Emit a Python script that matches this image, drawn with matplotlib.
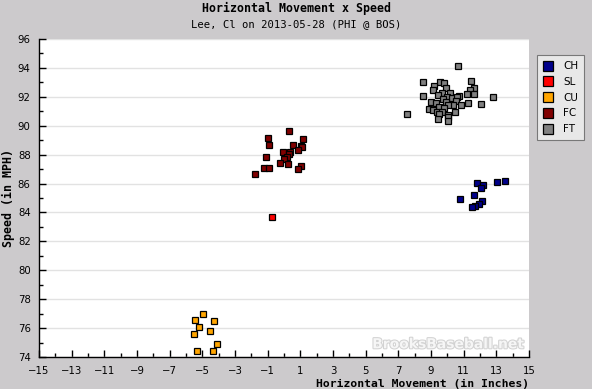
import matplotlib
matplotlib.use("Agg")
import matplotlib.pyplot as plt
import matplotlib.patheffects as pe
from matplotlib.ticker import MultipleLocator

# ---- data (horizontal movement in inches, speed in mph) ----
ch_x = [11.84, 12.20, 12.08, 13.06, 13.55, 10.80, 11.65, 12.14, 11.96, 11.71, 11.53]
ch_y = [86.02, 85.88, 85.67, 86.09, 86.16, 84.93, 85.19, 84.77, 84.56, 84.42, 84.36]

sl_x = [-0.72]
sl_y = [83.66]

cu_x = [-4.94, -5.43, -4.27, -5.19, -4.51, -5.49, -4.08, -5.31, -4.33]
cu_y = [76.95, 76.54, 76.47, 76.05, 75.78, 75.57, 74.88, 74.40, 74.40]

fc_x = [0.33, -0.96, 1.18, -0.90, 0.57, 1.06, 1.12, 0.88, -0.04, 0.39, 0.33,
        0.16, -1.08, 0.02, -0.23, 0.26, 1.06, 0.88, -1.22, -0.90, -1.76]
fc_y = [89.61, 89.13, 89.06, 88.65, 88.65, 88.60, 88.50, 88.30, 88.16, 88.16, 88.02,
        87.86, 87.82, 87.68, 87.40, 87.33, 87.19, 86.99, 87.05, 87.05, 86.64]

ft_x = [10.67, 8.53, 9.57, 9.82, 11.47, 9.20, 11.65, 9.94, 9.14, 11.41, 9.69,
        10.18, 11.22, 11.65, 8.53, 9.45, 10.00, 10.31, 9.76, 10.73, 10.61, 12.82,
        9.02, 9.33, 9.94, 10.55, 11.29, 12.08, 10.86, 10.37, 10.06, 9.51, 9.82,
        8.90, 9.14, 9.39, 9.69, 10.49, 10.06, 7.55, 9.51, 10.06, 9.45, 10.06]
ft_y = [94.11, 93.00, 93.00, 92.93, 93.07, 92.73, 92.59, 92.59, 92.45, 92.45, 92.24,
        92.24, 92.17, 92.17, 92.04, 92.10, 91.97, 91.90, 91.83, 92.04, 91.97, 91.97,
        91.62, 91.55, 91.62, 91.69, 91.55, 91.48, 91.41, 91.41, 91.41, 91.27, 91.21,
        91.14, 91.07, 90.93, 90.93, 90.93, 90.72, 90.79, 90.79, 90.58, 90.44, 90.31]

pitch_names = ["CH", "SL", "CU", "FC", "FT"]
pitch_colors = ["#00008b", "#ff0000", "#ffa500", "#800000", "#808080"]
series = [(ch_x, ch_y), (sl_x, sl_y), (cu_x, cu_y), (fc_x, fc_y), (ft_x, ft_y)]

x_ticks = list(range(-15, 16, 2))
y_ticks = list(range(74, 97, 2))

title = "Horizontal Movement x Speed"
subtitle = "Lee, Cl on 2013-05-28 (PHI @ BOS)"
xlabel = "Horizontal Movement (in Inches)"
ylabel = "Speed (in MPH)"

# ---- figure ----
bg = "#cccacc"
fig = plt.figure(figsize=(5.92, 3.89), dpi=100, facecolor=bg)
ax = fig.add_axes([39/592, 32/389, 490/592, 318/389])
ax.set_facecolor("white")

for (xs, ys), name, col in zip(series, pitch_names, pitch_colors):
    ax.plot(xs, ys, linestyle="none", marker="s", markersize=4.6,
            markerfacecolor=col, markeredgecolor="black", markeredgewidth=0.9,
            label=name, zorder=3)

ax.set_xlim(-15, 15)
ax.set_ylim(74, 96)
ax.set_xticks(x_ticks)
ax.set_yticks(y_ticks)
ax.xaxis.set_minor_locator(MultipleLocator(1))
ax.yaxis.set_minor_locator(MultipleLocator(1))
ax.tick_params(axis="both", which="major", direction="in", length=5, width=1,
               labelsize=7.3, colors="black")
ax.tick_params(axis="both", which="minor", direction="in", length=3, width=1)
ax.tick_params(axis="x", which="major", pad=6.5)
ax.tick_params(axis="y", which="major", pad=6)
ax.set_xticklabels([str(t).replace("-", "\u2212") for t in x_ticks])
ax.set_yticklabels([str(t) for t in y_ticks])

ax.yaxis.grid(True, which="major", color="#e2e2e2", linewidth=1)
ax.set_axisbelow(True)
for s in ["top", "right"]:
    ax.spines[s].set_visible(False)
for s in ["left", "bottom"]:
    ax.spines[s].set_linewidth(1)
    ax.spines[s].set_color("black")

# titles
fig.text(0.5, 1 - 8/389, title, ha="center", va="center",
         family="DejaVu Sans Mono", fontweight="bold", fontsize=8.4)
fig.text(0.5, 1 - 24/389, subtitle, ha="center", va="center",
         family="DejaVu Sans Mono", fontsize=7.6)
fig.text(529/592, 1 - 383.5/389, xlabel, ha="right", va="center",
         family="DejaVu Sans Mono", fontweight="bold", fontsize=8.2)
fig.text(8/592, 1 - 198/389, ylabel, ha="center", va="center", rotation=90,
         family="DejaVu Sans Mono", fontweight="bold", fontsize=8.4)

# watermark
ax.text(0.99, 0.04, "BrooksBaseball.net", transform=ax.transAxes,
        ha="right", va="center", fontsize=10, fontweight="bold",
        color="#f6f6f6", zorder=1,
        path_effects=[pe.withStroke(linewidth=1.5, foreground="#d2d2d2")])

# legend
leg = fig.legend(loc="upper left", bbox_to_anchor=(537/592, 1 - 55/389),
                 borderaxespad=0, frameon=True, fancybox=False, fontsize=7.5,
                 handletextpad=0.9, borderpad=0.6, labelspacing=0.55,
                 handlelength=1.0, markerscale=1.5)
leg.get_frame().set_facecolor("#f0f0f0")
leg.get_frame().set_edgecolor("#606060")
leg.get_frame().set_linewidth(0.8)

fig.savefig("out.png", dpi=100, facecolor=bg)
